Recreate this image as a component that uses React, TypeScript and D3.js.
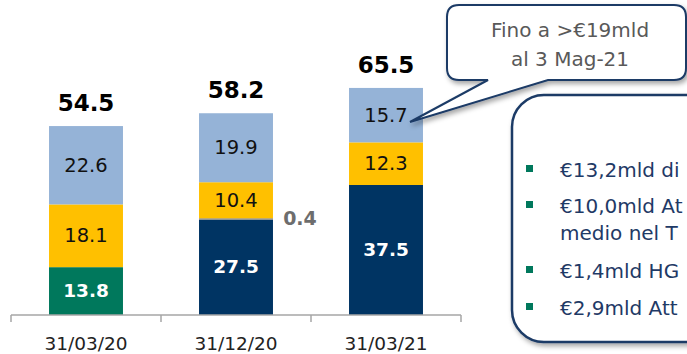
import React from "react";
import * as d3 from "d3";

const categories = ["31/03/20", "31/12/20", "31/03/21"];
const seriesKeys = ["green", "navy", "grey", "yellow", "light"];
const greenValues = [13.8, 0, 0];
const navyValues = [0, 27.5, 37.5];
const greyValues = [0, 0.4, 0];
const yellowValues = [18.1, 10.4, 12.3];
const lightValues = [22.6, 19.9, 15.7];
const totals = [54.5, 58.2, 65.5];
const calloutLines = ["Fino a >€19mld", "al 3 Mag-21"];
const bulletLines = [
  { text: "€13,2mld di", bullet: true },
  { text: "€10,0mld  At", bullet: true },
  { text: "medio nel T", bullet: false },
  { text: "€1,4mld HG", bullet: true },
  { text: "€2,9mld Att", bullet: true },
];

const colors: Record<string, string> = {
  green: "#00785c",
  navy: "#003463",
  grey: "#7f7f7f",
  yellow: "#ffc000",
  light: "#95b3d7",
};
const labelColors: Record<string, string> = {
  green: "#ffffff",
  navy: "#ffffff",
  grey: "#6d6d6d",
  yellow: "#111111",
  light: "#111111",
};

const W = 687;
const H = 354;
const FONT = "'DejaVu Sans', sans-serif";

export default function App() {
  const rows = categories.map((c, i) => ({
    cat: c,
    green: greenValues[i],
    navy: navyValues[i],
    grey: greyValues[i],
    yellow: yellowValues[i],
    light: lightValues[i],
  }));
  const stack = d3.stack<any>().keys(seriesKeys)(rows);
  const x = d3
    .scaleBand<string>()
    .domain(categories)
    .range([11, 461])
    .paddingInner(0.507)
    .paddingOuter(0.2535);
  const y = d3.scaleLinear().domain([0, 90]).range([315, 3]);
  const bw = x.bandwidth();
  const fmt = d3.format(".1f");

  // callout geometry
  const cx0 = 447, cy0 = 5, cx1 = 686, cy1 = 80, cr = 12;
  const tail = { a: 488, b: 548, tx: 410, ty: 122 };
  const calloutPath = [
    `M${cx0 + cr},${cy0}`,
    `L${cx1 - cr},${cy0}`,
    `Q${cx1},${cy0} ${cx1},${cy0 + cr}`,
    `L${cx1},${cy1 - cr}`,
    `Q${cx1},${cy1} ${cx1 - cr},${cy1}`,
    `L${tail.b},${cy1}`,
    `L${tail.tx},${tail.ty}`,
    `L${tail.a},${cy1}`,
    `L${cx0 + cr},${cy1}`,
    `Q${cx0},${cy1} ${cx0},${cy1 - cr}`,
    `L${cx0},${cy0 + cr}`,
    `Q${cx0},${cy0} ${cx0 + cr},${cy0}`,
    "Z",
  ].join(" ");

  const bulletY = [177, 213, 240, 278, 315];

  return (
    <svg
      width={W}
      height={H}
      style={{ position: "absolute", left: 0, top: 0, background: "#fff" }}
      fontFamily={FONT}
    >
      <defs>
        <filter id="shadow" x="-20%" y="-20%" width="140%" height="150%">
          <feDropShadow dx="2" dy="3" stdDeviation="2.5" floodColor="#000" floodOpacity="0.35" />
        </filter>
      </defs>
      <rect x={0} y={0} width={W} height={H} fill="#fff" />

      {/* bars */}
      {stack.map((s) =>
        s.map((d, i) => {
          const v = d[1] - d[0];
          if (v <= 0) return null;
          const key = s.key;
          return (
            <rect
              key={key + i}
              x={x(categories[i])}
              y={y(d[1])}
              width={bw}
              height={y(d[0]) - y(d[1])}
              fill={colors[key]}
            />
          );
        })
      )}

      {/* segment labels */}
      {stack.map((s) =>
        s.map((d, i) => {
          const v = d[1] - d[0];
          if (v <= 0) return null;
          const key = s.key;
          const bx = x(categories[i])!;
          const my = (y(d[0]) + y(d[1])) / 2;
          if (key === "grey") {
            return (
              <text
                key={"l" + key + i}
                x={bx + bw + 27}
                y={my + 1}
                textAnchor="middle"
                dominantBaseline="middle"
                fontSize={19}
                fontWeight="bold"
                fill={labelColors[key]}
              >
                {fmt(v)}
              </text>
            );
          }
          const bold = key === "green" || key === "navy";
          return (
            <text
              key={"l" + key + i}
              x={bx + bw / 2}
              y={my + 1}
              textAnchor="middle"
              dominantBaseline="middle"
              fontSize={bold ? 18.5 : 19.5}
              fontWeight={bold ? "bold" : "normal"}
              fill={labelColors[key]}
            >
              {fmt(v)}
            </text>
          );
        })
      )}

      {/* totals */}
      {categories.map((c, i) => (
        <text
          key={"t" + c}
          x={x(c)! + bw / 2}
          y={y(totals[i]) - 15}
          textAnchor="middle"
          fontSize={23}
          fontWeight="bold"
          fill="#000"
        >
          {fmt(totals[i])}
        </text>
      ))}

      {/* axis */}
      <line x1={11} x2={461} y1={315} y2={315} stroke="#a6a6a6" strokeWidth={1.5} />
      {[0, 1, 2, 3].map((k) => (
        <line
          key={"tk" + k}
          x1={11 + k * x.step()}
          x2={11 + k * x.step()}
          y1={315}
          y2={322}
          stroke="#a6a6a6"
          strokeWidth={1.5}
        />
      ))}
      {categories.map((c) => (
        <text
          key={"c" + c}
          x={x(c)! + bw / 2}
          y={350}
          textAnchor="middle"
          fontSize={18.5}
          fill="#222"
        >
          {c}
        </text>
      ))}

      {/* right box */}
      <rect
        x={512}
        y={95}
        width={230}
        height={247}
        rx={32}
        ry={32}
        fill="#fff"
        stroke="#1b3a66"
        strokeWidth={2.5}
        filter="url(#shadow)"
      />
      {bulletLines.map((b, i) => (
        <g key={"b" + i}>
          {b.bullet && (
            <rect x={526} y={bulletY[i] - 12} width={7} height={7} fill="#00785c" />
          )}
          <text x={560} y={bulletY[i]} fontSize={20} fill="#1f3a66">
            {b.text}
          </text>
        </g>
      ))}

      {/* callout */}
      <path d={calloutPath} fill="#fff" stroke="#1b3a66" strokeWidth={2} filter="url(#shadow)" />
      {calloutLines.map((t, i) => (
        <text
          key={"co" + i}
          x={570}
          y={37 + i * 29}
          textAnchor="middle"
          fontSize={20}
          fill="#595959"
        >
          {t}
        </text>
      ))}
    </svg>
  );
}
